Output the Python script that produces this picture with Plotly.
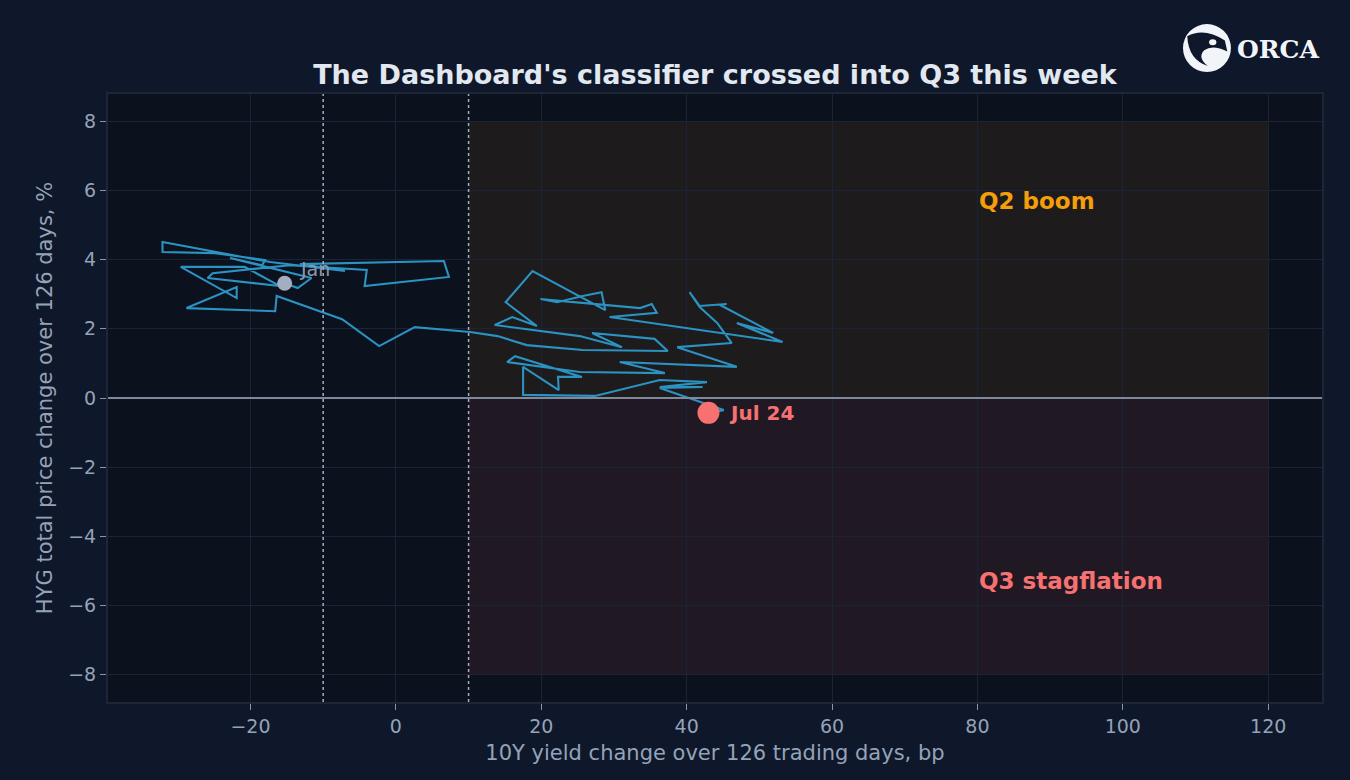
import plotly.graph_objects as go

# daily path of the classifier, Jan -> Jul 24
yield_chg_bp = [
    -15.3, -13.5, -11.6, -22.8, -18.4, -18.0, -24.9, -32.1, -32.1, -17.3,
    -7.0, -13.2, 6.6, 7.3, -4.3, -4.0, -14.6, -25.2, -25.9, -16.0,
    -20.8, -29.6, -21.9, -21.9, -28.8, -16.6, -16.4, -7.4, -2.3, 2.6,
    10.2, 14.0, 18.0, 25.7, 37.4, 35.6, 27.0, 31.1, 25.3, 13.6,
    16.0, 19.4, 15.1, 18.8, 28.8, 28.3, 25.7, 22.2, 19.9, 33.6,
    35.2, 35.9, 29.4, 53.2, 46.9, 51.9, 44.6, 45.5, 41.8, 40.4,
    41.8, 44.2, 46.2, 38.7, 46.9, 30.8, 37.0, 25.3, 15.3, 16.4,
    25.6, 22.3, 22.4, 17.5, 17.5, 27.4, 36.3, 42.8, 36.3, 42.2,
    36.3, 45.1, 43.0,
]
hyg_chg_pct = [
    3.32, 3.18, 3.47, 4.05, 3.84, 3.99, 4.19, 4.22, 4.51, 3.93,
    3.67, 3.87, 3.96, 3.50, 3.24, 3.70, 3.84, 3.61, 3.47, 3.24,
    3.79, 3.79, 2.89, 3.21, 2.60, 2.51, 2.95, 2.28, 1.50, 2.05,
    1.91, 1.79, 1.53, 1.39, 1.36, 1.71, 1.88, 1.47, 1.79, 2.11,
    2.34, 2.08, 2.77, 3.67, 2.54, 3.06, 2.95, 2.77, 2.86, 2.60,
    2.72, 2.46, 2.34, 1.62, 2.17, 1.88, 2.69, 2.72, 2.66, 3.06,
    2.63, 2.17, 1.59, 1.47, 0.90, 1.04, 0.72, 0.75, 1.04, 1.21,
    0.61, 0.61, 0.23, 0.90, 0.09, 0.06, 0.52, 0.46, 0.32, 0.32,
    0.29, -0.35, -0.43,
]
start_label = "Jan"
end_label = "Jul 24"

x_ticks = [-20, 0, 20, 40, 60, 80, 100, 120]
y_ticks = [-8, -6, -4, -2, 0, 2, 4, 6, 8]

PAPER = "#0f172a"
PLOT = "#0b111d"
GRID = "#1a2436"
MUTED = "#94a3b8"
LINE = "#2b92c2"
RED = "#f87171"
AMBER = "#f59e0b"
FONT = "DejaVu Sans"

fig = go.Figure()

fig.add_trace(go.Scatter(
    x=yield_chg_bp, y=hyg_chg_pct, mode="lines",
    line=dict(color=LINE, width=2.1), hoverinfo="skip", showlegend=False))

fig.add_trace(go.Scatter(
    x=[yield_chg_bp[0]], y=[hyg_chg_pct[0]], mode="markers",
    marker=dict(color="#a3aec3", size=15), showlegend=False))

fig.add_trace(go.Scatter(
    x=[yield_chg_bp[-1]], y=[hyg_chg_pct[-1]], mode="markers",
    marker=dict(color=RED, size=22), showlegend=False))

# point labels
fig.add_annotation(x=yield_chg_bp[0] + 1.8, y=hyg_chg_pct[0] + 0.41,
                   text=start_label, showarrow=False,
                   xanchor="left", yanchor="middle",
                   font=dict(color="#8d99ae", size=19, family=FONT))
fig.add_annotation(x=yield_chg_bp[-1] + 2.5, y=hyg_chg_pct[-1],
                   text="<b>" + end_label + "</b>", showarrow=False,
                   xanchor="left", yanchor="middle",
                   font=dict(color=RED, size=20, family=FONT))

# regime boxes
fig.add_shape(type="rect", x0=10, x1=120, y0=0, y1=8, layer="below",
              line_width=0, fillcolor="rgba(245,158,11,0.08)")
fig.add_shape(type="rect", x0=10, x1=120, y0=-8, y1=0, layer="below",
              line_width=0, fillcolor="rgba(248,113,113,0.09)")

for xv in [-10, 10]:
    fig.add_shape(type="line", x0=xv, x1=xv, y0=0, y1=1, yref="paper",
                  line=dict(color="#a3adbd", width=1.5, dash="dot"))
fig.add_shape(type="line", x0=0, x1=1, xref="paper", y0=0, y1=0,
              line=dict(color="#7f899c", width=1.8))

fig.add_annotation(x=80, y=5.7, text="<b>Q2 boom</b>", showarrow=False,
                   xanchor="left", font=dict(color=AMBER, size=23, family=FONT))
fig.add_annotation(x=80, y=-5.3, text="<b>Q3 stagflation</b>", showarrow=False,
                   xanchor="left", font=dict(color=RED, size=23, family=FONT))

# logo
fig.add_shape(type="circle", xref="paper", yref="paper",
              x0=0.8855, x1=0.925, y0=1.036, y1=1.115,
              fillcolor="#f1f5f9", line_width=0)
fig.add_shape(type="path", xref="paper", yref="paper",
              path="M 0.889,1.095 Q 0.903,1.110 0.920,1.088 L 0.922,1.070 "
                   "Q 0.910,1.082 0.903,1.072 Q 0.897,1.060 0.906,1.046 "
                   "Q 0.890,1.056 0.889,1.095 Z",
              fillcolor=PAPER, line_width=0)
fig.add_shape(type="circle", xref="paper", yref="paper",
              x0=0.907, x1=0.913, y0=1.080, y1=1.090,
              fillcolor="#f1f5f9", line_width=0)
fig.add_annotation(xref="paper", yref="paper", x=0.9285, y=1.074,
                   text="<b>ORCA</b>", showarrow=False,
                   xanchor="left", yanchor="middle",
                   font=dict(color="#f1f5f9", size=25, family="DejaVu Serif"))

axis_common = dict(
    showgrid=True, gridcolor=GRID, gridwidth=1, zeroline=False,
    showline=True, linecolor="#1c2637", linewidth=2, mirror=True,
    ticks="outside", ticklen=6, tickcolor="#8b95a7",
    tickfont=dict(color=MUTED, size=19, family=FONT),
)

fig.update_layout(
    width=1350, height=780,
    paper_bgcolor=PAPER, plot_bgcolor=PLOT,
    margin=dict(l=108, r=28, t=94, b=78),
    font=dict(family=FONT, color=MUTED),
    title=dict(text="<b>The Dashboard's classifier crossed into Q3 this week</b>",
               x=0.5296, xanchor="center", y=0.905, yanchor="middle",
               font=dict(color="#e2e8f0", size=27, family=FONT)),
    xaxis=dict(range=[-39.6, 127.4], tickvals=x_ticks,
               title=dict(text="10Y yield change over 126 trading days, bp",
                          font=dict(color=MUTED, size=21), standoff=10),
               **axis_common),
    yaxis=dict(range=[-8.79, 8.79], tickvals=y_ticks,
               title=dict(text="HYG total price change over 126 days, %",
                          font=dict(color=MUTED, size=21), standoff=10),
               **axis_common),
)

fig.write_html("out.html", config={"displayModeBar": False},
               post_script="document.body.style.margin='0';")
